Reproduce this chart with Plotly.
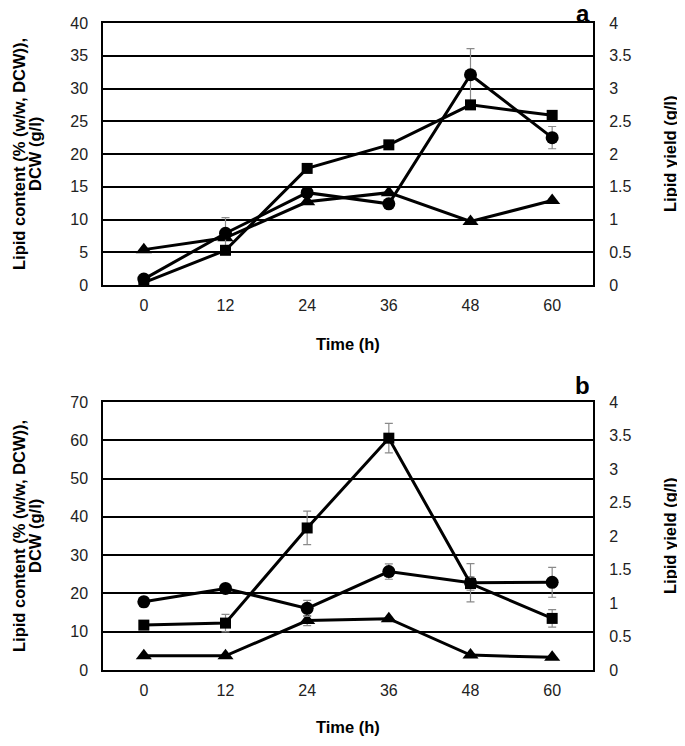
import plotly.graph_objects as go

# ---------------- data ----------------
time_labels = ["0", "12", "24", "36", "48", "60"]

# Panel a
a_dcw = [0.9, 7.9, 14.1, 12.4, 32.1, 22.5]          # circles (left axis)
a_dcw_err = [0, 2.4, 0, 0, 4.0, 1.7]
a_lipid = [5.4, 7.2, 12.7, 14.1, 9.7, 12.9]         # triangles (left axis)
a_lipid_err = [0, 0, 0, 0, 0, 0]
a_yield = [0.035, 0.53, 1.78, 2.14, 2.75, 2.59]     # squares (right axis, g/l)
a_yield_err = [0, 0, 0, 0, 0, 0]

# Panel b
b_dcw = [17.8, 21.3, 16.1, 25.7, 22.8, 22.9]        # circles (left axis)
b_dcw_err = [1.3, 0.8, 2.1, 2.0, 5.0, 3.9]
b_lipid = [3.7, 3.7, 12.9, 13.4, 3.9, 3.3]          # triangles (left axis)
b_lipid_err = [0, 0, 1.3, 0, 0, 0]
b_yield = [0.67, 0.70, 2.12, 3.46, 1.29, 0.77]      # squares (right axis, g/l)
b_yield_err = [0, 0.13, 0.25, 0.22, 0.10, 0.13]

left_ticks_a = [0, 5, 10, 15, 20, 25, 30, 35, 40]
left_ticks_b = [0, 10, 20, 30, 40, 50, 60, 70]
right_ticks = [0, 0.5, 1, 1.5, 2, 2.5, 3, 3.5, 4]
right_tick_text = ["0", "0.5", "1", "1.5", "2", "2.5", "3", "3.5", "4"]

# ---------------- geometry ----------------
# page body has an 8px margin; figure is drawn at (8, 8)
OFF = 8
FW, FH = 685 - OFF, 730


def px(x):
    return (x - OFF) / FW


def py(y):
    return 1 - (y - OFF) / FH


FONT = "Liberation Sans, Arial, sans-serif"
xl, xr = px(103), px(593)
a_top, a_bot = py(23), py(285)
b_top, b_bot = py(402), py(670)

LINE_W = 3
ERR = dict(type="data", color="#8a8a8a", thickness=1.2, width=4)


def series(y, err, symbol, size, xa, ya, name):
    e = dict(ERR, array=err, visible=True)
    return go.Scatter(
        x=time_labels, y=y, mode="lines+markers", name=name,
        line=dict(color="black", width=LINE_W),
        marker=dict(symbol=symbol, size=size, color="black",
                    line=dict(color="black", width=0)),
        error_y=e, xaxis=xa, yaxis=ya, showlegend=False,
    )


fig = go.Figure()
# panel a
fig.add_trace(series(a_lipid, a_lipid_err, "triangle-up", 14, "x", "y", "Lipid content"))
fig.add_trace(series(a_yield, a_yield_err, "square", 11, "x", "y2", "Lipid yield"))
fig.add_trace(series(a_dcw, a_dcw_err, "circle", 13, "x", "y", "DCW"))
# panel b
fig.add_trace(series(b_lipid, b_lipid_err, "triangle-up", 14, "x2", "y3", "Lipid content"))
fig.add_trace(series(b_yield, b_yield_err, "square", 11, "x2", "y4", "Lipid yield"))
fig.add_trace(series(b_dcw, b_dcw_err, "circle", 13, "x2", "y3", "DCW"))

tickfont = dict(family=FONT, size=16, color="#222")

xcommon = dict(type="category", range=[-0.5, 5.5], showgrid=False,
               showline=True, linecolor="black", linewidth=1.5, mirror=True,
               ticks="outside", ticklen=5, tickcolor="rgba(0,0,0,0)",
               tickfont=tickfont, zeroline=False, domain=[xl, xr],
               categoryorder="array", categoryarray=time_labels,
               automargin=False)

ycommon = dict(showgrid=True, gridcolor="black", gridwidth=1.5,
               showline=True, linecolor="black", linewidth=1.5, mirror=True,
               ticks="outside", ticklen=10, tickcolor="rgba(0,0,0,0)",
               tickfont=tickfont, zeroline=False, automargin=False)

rcommon = dict(showgrid=False, showline=False, zeroline=False,
               ticks="outside", ticklen=12, tickcolor="rgba(0,0,0,0)",
               tickfont=tickfont, side="right", automargin=False,
               tickvals=right_ticks, ticktext=right_tick_text, range=[0, 4])

fig.update_layout(
    width=FW, height=FH, margin=dict(l=0, r=0, t=0, b=0, pad=0),
    paper_bgcolor="white", plot_bgcolor="white",
    font=dict(family=FONT, color="black"),
    xaxis=dict(xcommon, anchor="y"),
    yaxis=dict(ycommon, domain=[a_bot, a_top], range=[0, 40], tickvals=left_ticks_a),
    yaxis2=dict(rcommon, overlaying="y", anchor="x"),
    xaxis2=dict(xcommon, anchor="y3"),
    yaxis3=dict(ycommon, domain=[b_bot, b_top], range=[0, 70], tickvals=left_ticks_b, anchor="x2"),
    yaxis4=dict(rcommon, overlaying="y3", anchor="x2"),
)

title_font = dict(family=FONT, size=16.5, color="black")
panels = [(23, 285, "a", 344, 29), (402, 670, "b", 727, 401)]
for top_px, bot_px, letter, xlab_px, letter_px in panels:
    mid = py((top_px + bot_px) / 2)
    fig.add_annotation(x=px(19), y=mid, xref="paper", yref="paper",
                       text="<b>Lipid content (% (w/w, DCW)),</b>",
                       textangle=-90, showarrow=False, font=title_font,
                       xanchor="center", yanchor="middle")
    fig.add_annotation(x=px(35), y=mid, xref="paper", yref="paper",
                       text="<b>DCW (g/l)</b>",
                       textangle=-90, showarrow=False, font=title_font,
                       xanchor="center", yanchor="middle")
    fig.add_annotation(x=px(670), y=mid, xref="paper", yref="paper",
                       text="<b>Lipid yield (g/l)</b>", textangle=-90, showarrow=False,
                       font=title_font, xanchor="center", yanchor="middle")
    fig.add_annotation(x=(xl + xr) / 2, y=py(xlab_px), xref="paper", yref="paper",
                       text="<b>Time (h)</b>", showarrow=False, font=title_font,
                       xanchor="center", yanchor="middle")
    fig.add_annotation(x=px(592), y=py(letter_px), xref="paper", yref="paper",
                       text=f"<b>{letter}</b>", showarrow=False,
                       font=dict(family=FONT, size=24, color="black"),
                       xanchor="right", yanchor="bottom")

fig.write_html("out.html")
